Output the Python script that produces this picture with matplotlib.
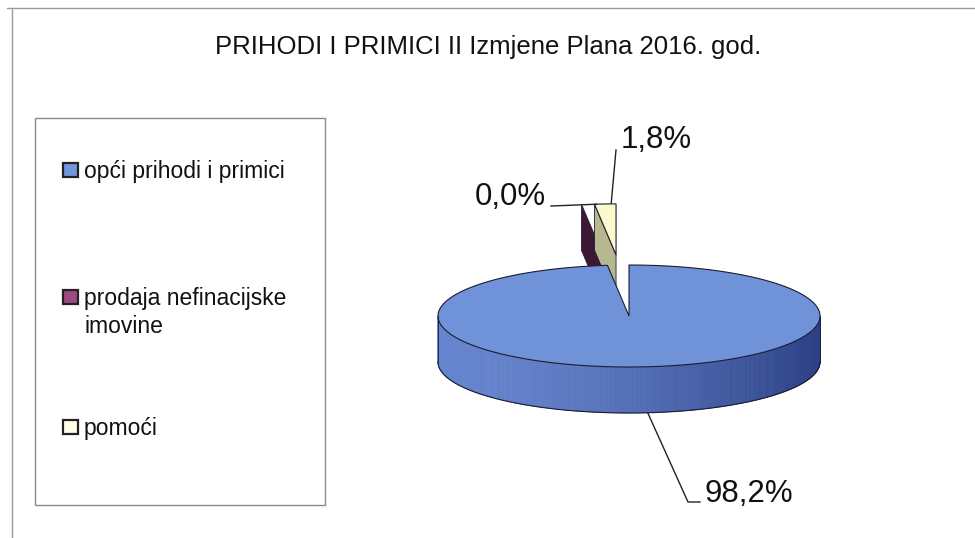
import numpy as np
import matplotlib.pyplot as plt
from matplotlib.colors import to_rgb
from matplotlib.patches import Polygon, Rectangle

plt.rcParams['font.family'] = ['Liberation Sans', 'DejaVu Sans']

title = 'PRIHODI I PRIMICI II Izmjene Plana 2016. god.'
categories = ['opći prihodi i primici', 'prodaja nefinacijske\nimovine', 'pomoći']
shares = [98.2, 0.0, 1.8]
pct_labels = ['98,2%', '0,0%', '1,8%']

top_colors = ['#7092d8', '#4a2040', '#fafacd']
face_colors = ['#5f80c8', '#3c1834', '#b8b890']
legend_colors = ['#7096dc', '#a04880', '#ffffe8']
explode = [0.0, 1.2, 1.2]

# pie geometry in pixels (y goes down)
cx, cy, rx, ry, depth = 629, 316, 191, 51, 46


def pt(theta, off, z=0.0):
    t = np.radians(theta)
    return (cx + off[0] + rx * np.cos(t), cy + off[1] - ry * np.sin(t) + z)


fig = plt.figure(figsize=(9.75, 5.38), dpi=100)
ax = fig.add_axes([0, 0, 1, 1])
ax.set_xlim(0, 975)
ax.set_ylim(538, 0)
ax.axis('off')

# outer chart frame (only top / left visible)
ax.plot([7, 975], [8, 8], color='#9a9a9a', lw=1)
ax.plot([12, 12], [8, 538], color='#9a9a9a', lw=1)

ax.text(488, 54, title, ha='center', va='baseline', fontsize=18.5, color='#111111')

# slice angles, start at 12 o'clock and go clockwise
total = sum(shares)
starts, ends = [], []
a = 90.0
for s in shares:
    starts.append(a)
    a = a - 360.0 * s / total
    ends.append(a)

offsets = []
for i in range(len(shares)):
    mid = np.radians((starts[i] + ends[i]) / 2)
    offsets.append((rx * explode[i] * np.cos(mid), -ry * explode[i] * np.sin(mid)))

edge = '#1c1c30'


def draw_slice(i):
    a0, a1, off = starts[i], ends[i], offsets[i]
    c_top = (cx + off[0], cy + off[1])
    # radial faces
    if np.cos(np.radians(a0)) < -1e-6:
        p = pt(a0, off)
        poly = [c_top, p, (p[0], p[1] + depth), (c_top[0], c_top[1] + depth)]
        ax.add_patch(Polygon(poly, closed=True, fc=face_colors[i], ec=edge, lw=0.6))
    if np.cos(np.radians(a1)) > 1e-6:
        p = pt(a1, off)
        poly = [c_top, p, (p[0], p[1] + depth), (c_top[0], c_top[1] + depth)]
        ax.add_patch(Polygon(poly, closed=True, fc=face_colors[i], ec=edge, lw=0.6))
    if a0 == a1:
        return
    # outer side, shaded darker to the right
    th = np.linspace(a0, a1, max(int(abs(a0 - a1) * 2), 2))
    light = np.array([0.40, 0.52, 0.81])
    dark = np.array([0.17, 0.25, 0.52])
    for k in range(len(th) - 1):
        m = np.radians((th[k] + th[k + 1]) / 2)
        if np.sin(m) >= 0:
            continue
        w = ((1 + np.cos(m)) / 2) ** 1.6
        col = light * (1 - w) + dark * w
        if i != 0:
            col = np.array(to_rgb(face_colors[i]))
        p0, p1 = pt(th[k], off), pt(th[k + 1], off)
        poly = [p0, p1, (p1[0], p1[1] + depth), (p0[0], p0[1] + depth)]
        ax.add_patch(Polygon(poly, closed=True, fc=col, ec=col, lw=0.5))
    # outline of the side
    front = th[np.sin(np.radians(th)) <= 0]
    if len(front) > 1:
        bx = [pt(t, off, depth)[0] for t in front]
        by = [pt(t, off, depth)[1] for t in front]
        ax.plot(bx, by, color=edge, lw=0.8)
        for t in (front[0], front[-1]):
            p = pt(t, off)
            ax.plot([p[0], p[0]], [p[1], p[1] + depth], color=edge, lw=0.6)
    # top face
    arc = [pt(t, off) for t in th]
    ax.add_patch(Polygon([c_top] + arc, closed=True, fc=top_colors[i], ec=edge, lw=0.8))


# exploded small slices sit behind the big one
for i in [1, 2, 0]:
    draw_slice(i)

# data labels with leader lines
lbl_color = '#111111'
lead = '#222222'
# main slice
m0 = (starts[0] + ends[0]) / 2
p = pt(m0, offsets[0], depth)
ax.plot([p[0] + 8, 688, 700], [p[1], 502, 502], color=lead, lw=1)
ax.text(704, 502, pct_labels[0], ha='left', va='baseline', fontsize=22.5, color=lbl_color)
# zero slice -> touches the top-left corner of the exploded pair
p = pt(starts[2], offsets[2])
ax.plot([551, p[0] + 2], [206, p[1]], color=lead, lw=1)
ax.text(546, 205, pct_labels[1], ha='right', va='baseline', fontsize=22.5, color=lbl_color)
# pomoci
m2 = (starts[2] + ends[2]) / 2
p = pt(m2, offsets[2])
ax.plot([p[0] + 6, 616], [p[1] - 1, 150], color=lead, lw=1)
ax.text(621, 148, pct_labels[2], ha='left', va='baseline', fontsize=22.5, color=lbl_color)

# legend box
ax.add_patch(Rectangle((35, 118), 290, 387, fill=False, ec='#8a8a8a', lw=1))
legend_y = [178, 305, 435]
for col, name, y in zip(legend_colors, categories, legend_y):
    ax.add_patch(Rectangle((63, y - 15), 15, 14, fc=col, ec='#222222', lw=1.6))
    for j, line in enumerate(name.split('\n')):
        ax.text(84, y + 28 * j, line, ha='left', va='baseline', fontsize=16.5,
                color='#111111')

fig.savefig('out.png', dpi=100)
